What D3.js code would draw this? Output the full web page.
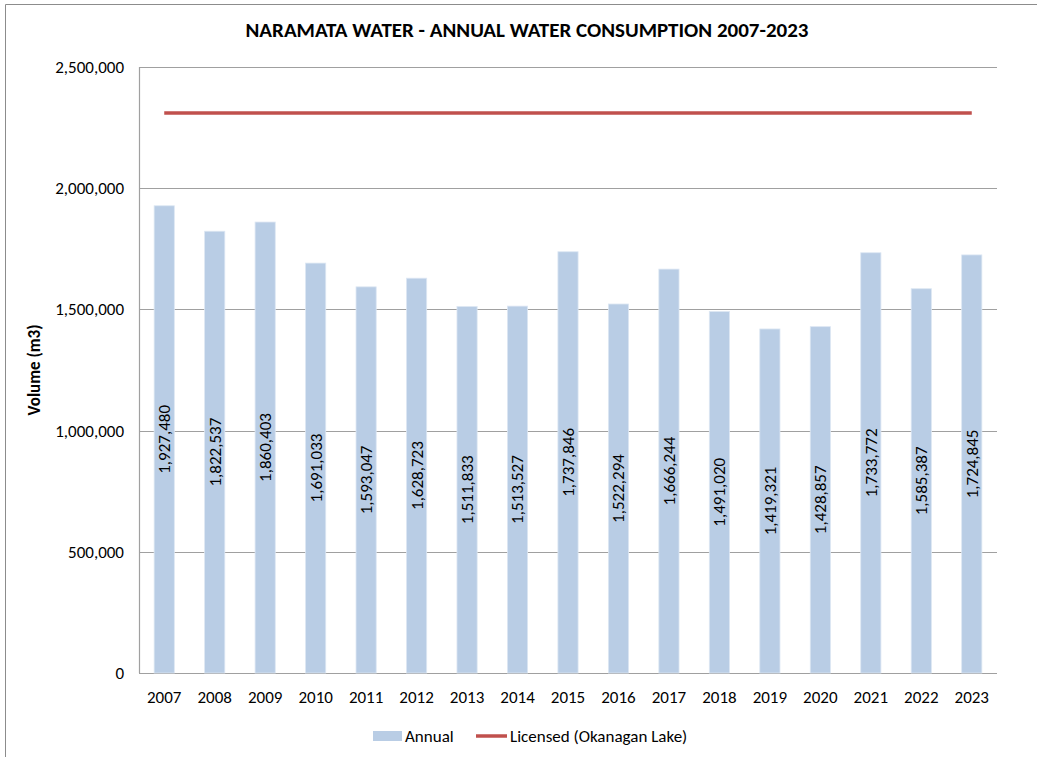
<!DOCTYPE html>
<html>
<head>
<meta charset="utf-8">
<script src="https://cdn.jsdelivr.net/npm/d3@7"></script>
<style>
  body { margin: 0; background: #fff; }
  text { font-family: Carlito, "Open Sans", "Liberation Sans", sans-serif; }
</style>
</head>
<body>
<div id="chart"></div>
<script>
// data
var years = ["2007","2008","2009","2010","2011","2012","2013","2014","2015","2016","2017","2018","2019","2020","2021","2022","2023"];
var annual = [1927480,1822537,1860403,1691033,1593047,1628723,1511833,1513527,1737846,1522294,1666244,1491020,1419321,1428857,1733772,1585387,1724845];
var licensed = 2310000;
var yTicks = [0,500000,1000000,1500000,2000000,2500000];

var svgWidth = 1037;
var svgHeight = 757;

var margin = { top: 67, right: 40, bottom: 84, left: 139 };
var width = 997 - margin.left;
var height = 673 - margin.top;

var svg = d3.select("#chart")
  .append("svg")
  .attr("width", svgWidth)
  .attr("height", svgHeight);

// outer frame (only left + top edges visible in the reference)
svg.append("path")
  .attr("d", "M5.5,757 L5.5,4.5 L1037,4.5")
  .attr("fill", "none")
  .attr("stroke", "#8c8c8c")
  .attr("stroke-width", 1);

var chartGroup = svg.append("g")
  .attr("transform", `translate(${margin.left}, ${margin.top})`);

var xScale = d3.scaleBand()
  .domain(years)
  .range([0, width])
  .paddingInner(0.6)
  .paddingOuter(0.3);

var yScale = d3.scaleLinear()
  .domain([0, 2500000])
  .range([height, 0]);

// gridlines
chartGroup.append("g")
  .selectAll("line")
  .data(yTicks)
  .enter()
  .append("line")
  .attr("x1", 0)
  .attr("x2", width)
  .attr("y1", d => Math.round(yScale(d)) + 0.5)
  .attr("y2", d => Math.round(yScale(d)) + 0.5)
  .attr("stroke", "#a0a0a0")
  .attr("stroke-width", 1.2);

chartGroup.append("line")
  .attr("x1", 0.5).attr("x2", 0.5)
  .attr("y1", 0).attr("y2", height)
  .attr("stroke", "#a0a0a0")
  .attr("stroke-width", 1.2);

var fmt = d3.format(",");

// y tick labels
chartGroup.append("g")
  .selectAll("text")
  .data(yTicks)
  .enter()
  .append("text")
  .attr("x", -15)
  .attr("y", d => yScale(d))
  .attr("dy", "0.35em")
  .attr("text-anchor", "end")
  .attr("font-size", "17px")
  .attr("fill", "#000")
  .text(d => fmt(d));

// x tick labels
chartGroup.append("g")
  .selectAll("text")
  .data(years)
  .enter()
  .append("text")
  .attr("x", d => xScale(d) + xScale.bandwidth() / 2)
  .attr("y", height + 30)
  .attr("text-anchor", "middle")
  .attr("font-size", "17px")
  .attr("fill", "#000")
  .text(d => d);

// bars
var barData = years.map((y, i) => ({ year: y, value: annual[i] }));

chartGroup.selectAll("rect.bar")
  .data(barData)
  .enter()
  .append("rect")
  .attr("class", "bar")
  .attr("x", d => xScale(d.year))
  .attr("y", d => yScale(d.value))
  .attr("width", xScale.bandwidth())
  .attr("height", d => height - yScale(d.value))
  .attr("fill", "#b9cde5")
  .attr("stroke", "#dde7f3")
  .attr("stroke-width", 0.8);

// value labels, rotated, centred on each bar
chartGroup.selectAll("text.val")
  .data(barData)
  .enter()
  .append("text")
  .attr("class", "val")
  .attr("transform", d => {
    var cx = xScale(d.year) + xScale.bandwidth() / 2;
    var cy = (yScale(d.value) + height) / 2;
    return `translate(${cx}, ${cy}) rotate(-90)`;
  })
  .attr("text-anchor", "middle")
  .attr("dy", "0.35em")
  .attr("font-size", "17px")
  .attr("fill", "#000")
  .text(d => fmt(d.value));

// licensed line
var line = d3.line()
  .x(d => xScale(d) + xScale.bandwidth() / 2)
  .y(() => yScale(licensed));

chartGroup.append("path")
  .datum(years)
  .attr("d", line)
  .attr("fill", "none")
  .attr("stroke", "#c0504d")
  .attr("stroke-width", 3.5);

// title
svg.append("text")
  .attr("x", 527)
  .attr("y", 37)
  .attr("text-anchor", "middle")
  .attr("font-size", "21px")
  .attr("font-weight", "bold")
  .attr("fill", "#000")
  .text("NARAMATA WATER - ANNUAL WATER CONSUMPTION 2007-2023");

// y axis title
svg.append("text")
  .attr("transform", "translate(40, " + (margin.top + height / 2) + ") rotate(-90)")
  .attr("text-anchor", "middle")
  .attr("font-size", "17px")
  .attr("font-weight", "bold")
  .attr("fill", "#000")
  .text("Volume (m3)");

// legend
var legend = svg.append("g").attr("transform", "translate(0, 736)");
legend.append("rect")
  .attr("x", 373).attr("y", -5)
  .attr("width", 29).attr("height", 10)
  .attr("fill", "#b9cde5");
legend.append("text")
  .attr("x", 405).attr("y", 0)
  .attr("dy", "0.35em")
  .attr("font-size", "17px")
  .attr("fill", "#000")
  .text("Annual");
legend.append("line")
  .attr("x1", 476).attr("x2", 507)
  .attr("y1", 0).attr("y2", 0)
  .attr("stroke", "#c0504d")
  .attr("stroke-width", 3.5);
legend.append("text")
  .attr("x", 510).attr("y", 0)
  .attr("dy", "0.35em")
  .attr("font-size", "17px")
  .attr("fill", "#000")
  .text("Licensed (Okanagan Lake)");
</script>
</body>
</html>
